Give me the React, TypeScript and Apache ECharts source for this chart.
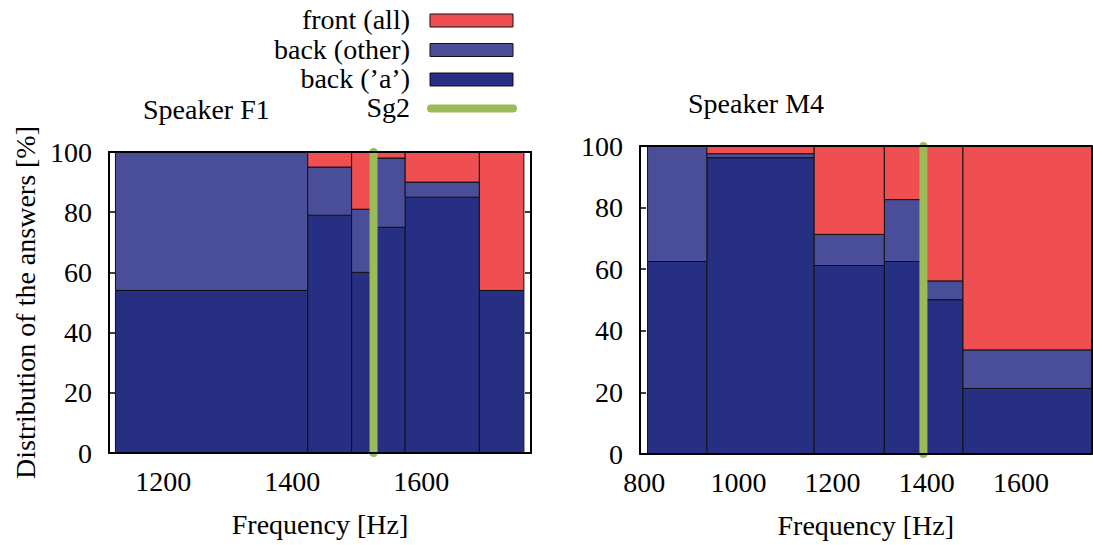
import React, { useEffect, useRef } from "react";
import * as echarts from "echarts";

// ---- data ----
const stackNames = ["front (all)", "back (other)", "back (’a’)"];
const sg2Name = "Sg2";

// Speaker F1: bin edges [Hz] and stacked shares [%]
const f1Edges = [1126, 1424, 1492, 1526, 1575, 1690, 1759];
const f1BackA = [54, 79, 60, 75, 85, 54];
const f1BackOther = [46, 16, 21, 23, 5, 0];
const f1Front = [0, 5, 19, 2, 10, 46];
const f1Sg2 = 1526;

// Speaker M4
const m4Edges = [807, 933, 1161, 1310, 1393, 1477, 1750];
const m4BackA = [62.5, 96.2, 61.2, 62.5, 50.1, 21.3];
const m4BackOther = [37.5, 1.3, 10.1, 20.1, 6.1, 12.5];
const m4Front = [0, 2.5, 28.7, 17.4, 43.8, 66.2];
const m4Sg2 = 1393;

const yTicks = [0, 20, 40, 60, 80, 100];
const xTicksF1 = [1200, 1400, 1600];
const xTicksM4 = [800, 1000, 1200, 1400, 1600];

const COLORS = { front: "#EF4F51", other: "#4A4E98", a: "#272F82", sg2: "#9BBB59" };
const FONT = "Liberation Serif";
const FS = 28;

function buildRects(edges: number[], a: number[], other: number[], front: number[]) {
  const ra: number[][] = [];
  const ro: number[][] = [];
  const rf: number[][] = [];
  for (let i = 0; i < a.length; i++) {
    const x0 = edges[i];
    const x1 = edges[i + 1];
    const y1 = a[i];
    const y2 = a[i] + other[i];
    const y3 = y2 + front[i];
    if (y1 > 0) ra.push([x0, x1, 0, y1]);
    if (other[i] > 0) ro.push([x0, x1, y1, y2]);
    if (front[i] > 0) rf.push([x0, x1, y2, y3]);
  }
  return { ra, ro, rf };
}

function rectSeries(name: string, data: number[][], color: string, xi: number, yi: number) {
  return {
    type: "custom",
    name,
    xAxisIndex: xi,
    yAxisIndex: yi,
    z: 2,
    encode: { x: [0, 1], y: [2, 3] },
    data,
    renderItem: (_params: any, api: any) => {
      const p0 = api.coord([api.value(0), api.value(3)]);
      const p1 = api.coord([api.value(1), api.value(2)]);
      return {
        type: "rect",
        shape: { x: p0[0], y: p0[1], width: p1[0] - p0[0], height: p1[1] - p0[1] },
        style: { fill: color, stroke: "#111", lineWidth: 1 },
      };
    },
  };
}

function xAxes(gi: number, min: number, max: number, ticks: number[]) {
  return [
    {
      type: "value",
      gridIndex: gi,
      min,
      max,
      position: "bottom",
      z: 5,
      splitLine: { show: false },
      axisTick: { show: false },
      axisLine: { show: true, onZero: false, lineStyle: { color: "#000", width: 2 } },
      axisLabel: {
        color: "#000",
        fontSize: FS,
        fontFamily: FONT,
        margin: 14,
        showMinLabel: false,
        showMaxLabel: false,
        formatter: (v: number) => (ticks.indexOf(v) >= 0 ? String(v) : ""),
      },
      name: "Frequency [Hz]",
      nameLocation: "middle",
      nameGap: 57,
      nameTextStyle: { color: "#000", fontSize: FS, fontFamily: FONT },
    },
    {
      type: "value",
      gridIndex: gi,
      min,
      max,
      position: "top",
      z: 5,
      splitLine: { show: false },
      axisTick: { show: false },
      axisLabel: { show: false },
      axisLine: { show: true, onZero: false, lineStyle: { color: "#000", width: 2 } },
    },
  ];
}

function yAxes(gi: number, withName: boolean) {
  return [
    {
      type: "value",
      gridIndex: gi,
      min: 0,
      max: 100,
      interval: 20,
      position: "left",
      z: 1,
      splitLine: { show: false },
      axisLine: { show: true, onZero: false, lineStyle: { color: "#000", width: 2 } },
      axisTick: { show: true, inside: true, length: 6, lineStyle: { color: "#000", width: 1.5 } },
      axisLabel: {
        color: "#000",
        fontSize: FS,
        fontFamily: FONT,
        margin: 17,
        formatter: (v: number) => (yTicks.indexOf(v) >= 0 ? String(v) : ""),
      },
      name: withName ? "Distribution of the answers [%]" : "",
      nameLocation: "middle",
      nameGap: 70,
      nameTextStyle: { color: "#000", fontSize: FS, fontFamily: FONT },
    },
    {
      type: "value",
      gridIndex: gi,
      min: 0,
      max: 100,
      interval: 20,
      position: "right",
      z: 1,
      splitLine: { show: false },
      axisLine: { show: true, onZero: false, lineStyle: { color: "#000", width: 2 } },
      axisTick: { show: true, inside: true, length: 6, lineStyle: { color: "#000", width: 1.5 } },
      axisLabel: { show: false },
    },
  ];
}

function sg2Series(x: number, xi: number, yi: number) {
  return {
    type: "line",
    name: sg2Name,
    xAxisIndex: xi,
    yAxisIndex: yi,
    z: 4,
    clip: false,
    symbol: "none",
    data: [
      [x, 0],
      [x, 100],
    ],
    lineStyle: { color: COLORS.sg2, width: 8, cap: "round" },
  };
}

export default function App() {
  const ref = useRef<HTMLDivElement>(null);

  useEffect(() => {
    document.body.style.margin = "0";
    if (!ref.current) return;
    const chart = echarts.init(ref.current, undefined, { renderer: "svg" });

    const f1 = buildRects(f1Edges, f1BackA, f1BackOther, f1Front);
    const m4 = buildRects(m4Edges, m4BackA, m4BackOther, m4Front);

    const legendRows = [
      { name: stackNames[0], color: COLORS.front, y: 20.5 },
      { name: stackNames[1], color: COLORS.other, y: 50 },
      { name: stackNames[2], color: COLORS.a, y: 79.5 },
    ];

    const textStyle = (text: string, align: string) => ({
      text,
      fill: "#000",
      fontSize: FS,
      fontFamily: FONT,
      textAlign: align,
      textVerticalAlign: "middle",
    });

    const graphics: any[] = [];
    legendRows.forEach((r) => {
      graphics.push({ type: "text", x: 410, y: r.y - 1, style: textStyle(r.name, "right") });
      graphics.push({
        type: "rect",
        shape: { x: 430, y: r.y - 6.5, width: 83, height: 13 },
        style: { fill: r.color, stroke: "#111", lineWidth: 1 },
      });
    });
    graphics.push({ type: "text", x: 410, y: 107, style: textStyle(sg2Name, "right") });
    graphics.push({
      type: "line",
      shape: { x1: 431, y1: 108.5, x2: 513, y2: 108.5 },
      style: { stroke: COLORS.sg2, lineWidth: 8, lineCap: "round" },
    });
    graphics.push({ type: "text", x: 143, y: 109, style: textStyle("Speaker F1", "left") });
    graphics.push({ type: "text", x: 688, y: 103, style: textStyle("Speaker M4", "left") });

    chart.setOption({
      animation: false,
      backgroundColor: "#fff",
      textStyle: { fontFamily: FONT },
      grid: [
        { left: 109, top: 152, width: 422, height: 301 },
        { left: 640, top: 146, width: 451.5, height: 308 },
      ],
      xAxis: [...xAxes(0, 1116, 1770, xTicksF1), ...xAxes(1, 791, 1750, xTicksM4)],
      yAxis: [...yAxes(0, true), ...yAxes(1, false)],
      graphic: graphics,
      series: [
        rectSeries(stackNames[2], f1.ra, COLORS.a, 0, 0),
        rectSeries(stackNames[1], f1.ro, COLORS.other, 0, 0),
        rectSeries(stackNames[0], f1.rf, COLORS.front, 0, 0),
        sg2Series(f1Sg2, 0, 0),
        rectSeries(stackNames[2], m4.ra, COLORS.a, 2, 2),
        rectSeries(stackNames[1], m4.ro, COLORS.other, 2, 2),
        rectSeries(stackNames[0], m4.rf, COLORS.front, 2, 2),
        sg2Series(m4Sg2, 2, 2),
      ],
    });

    return () => chart.dispose();
  }, []);

  return <div ref={ref} style={{ width: 1093, height: 545 }} />;
}
